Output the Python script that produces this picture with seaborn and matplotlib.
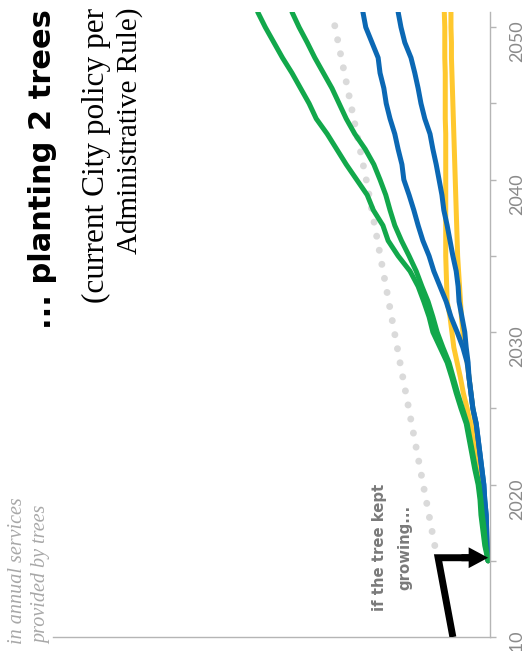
import matplotlib
matplotlib.use("Agg")
import matplotlib.pyplot as plt
import numpy as np
import pandas as pd
import seaborn as sns

# ---- data -------------------------------------------------------------
years = list(range(2015, 2052))

green_a = [0.04, 0.11, 0.15, 0.19, 0.21, 0.25, 0.32, 0.38, 0.44, 0.50,
           0.61, 0.71, 0.80, 0.90, 1.05, 1.20, 1.28, 1.39, 1.51, 1.68,
           1.93, 2.14, 2.25, 2.45, 2.58, 2.80, 3.02, 3.22, 3.42, 3.65,
           3.80, 3.98, 4.16, 4.36, 4.54, 4.72, 4.88]
green_b = [0.04, 0.09, 0.12, 0.16, 0.19, 0.23, 0.30, 0.36, 0.42, 0.48,
           0.58, 0.68, 0.77, 0.86, 0.99, 1.11, 1.20, 1.30, 1.43, 1.55,
           1.70, 1.86, 2.00, 2.10, 2.19, 2.31, 2.44, 2.62, 2.84, 3.02,
           3.17, 3.32, 3.50, 3.68, 3.84, 4.01, 4.16]
blue_c = [0.04, 0.06, 0.07, 0.08, 0.11, 0.13, 0.17, 0.21, 0.25, 0.29,
          0.36, 0.40, 0.44, 0.48, 0.57, 0.69, 0.82, 0.92, 1.05, 1.18,
          1.28, 1.41, 1.51, 1.60, 1.70, 1.81, 1.85, 1.93, 2.00, 2.10,
          2.18, 2.23, 2.31, 2.35, 2.48, 2.61, 2.67]
blue_d = [0.04, 0.06, 0.07, 0.08, 0.11, 0.13, 0.17, 0.21, 0.25, 0.29,
          0.36, 0.40, 0.44, 0.46, 0.50, 0.53, 0.59, 0.65, 0.67, 0.71,
          0.78, 0.84, 0.90, 0.97, 1.01, 1.07, 1.13, 1.20, 1.26, 1.37,
          1.45, 1.51, 1.58, 1.66, 1.79, 1.87, 1.93]
yellow_e = [0.04, 0.07, 0.09, 0.12, 0.15, 0.20, 0.25, 0.30, 0.36, 0.42,
            0.48, 0.56, 0.62, 0.69, 0.76, 0.80, 0.84, 0.90, 0.91, 0.92,
            0.93, 0.93, 0.93, 0.93, 0.93, 0.93, 0.93, 0.93, 0.93, 0.94,
            0.94, 0.94, 0.94, 0.95, 0.95, 0.95, 0.96]
yellow_f = [0.04, 0.06, 0.08, 0.10, 0.14, 0.19, 0.22, 0.26, 0.29, 0.32,
            0.36, 0.40, 0.44, 0.48, 0.53, 0.57, 0.60, 0.62, 0.64, 0.66,
            0.68, 0.69, 0.70, 0.71, 0.72, 0.73, 0.74, 0.75, 0.76, 0.77,
            0.78, 0.79, 0.80, 0.81, 0.81, 0.82, 0.82]

growth_years = [2016, 2028, 2040, 2051]
growth_values = [1.16, 1.89, 2.60, 3.32]

arrow_years = [2010, 2015.2, 2015.2]
arrow_values = [0.78, 1.09, 0.40]

year_ticks = [2010, 2020, 2030, 2040, 2050]
year_minor = [2015, 2025, 2035, 2045]
value_ticks = list(range(0, 10))

series = {
    "yellow_e": yellow_e, "yellow_f": yellow_f,
    "blue_c": blue_c, "blue_d": blue_d,
    "green_a": green_a, "green_b": green_b,
}
palette = {
    "yellow_e": "#FFC82E", "yellow_f": "#FFC82E",
    "blue_c": "#0B68B4", "blue_d": "#0B68B4",
    "green_a": "#12A84B", "green_b": "#12A84B",
}

df = pd.concat(
    [pd.DataFrame({"year": years, "value": v, "series": k}) for k, v in series.items()],
    ignore_index=True,
)
growth = pd.DataFrame({"year": growth_years, "value": growth_values})

# ---- figure -----------------------------------------------------------
sns.set_style("white")
W, H = 530, 651
fig = plt.figure(figsize=(W / 100, H / 100), dpi=100)
ax = fig.add_axes([53 / W, 1 - 637 / H, (490 - 53) / W, (637 - 12) / H])

sns.lineplot(data=growth, x="value", y="year", orient="y", ax=ax,
             color="#DADADA", linewidth=5.0, linestyle=(0, (0.01, 2.05)),
             dash_capstyle="round", estimator=None, zorder=1)

for group in (["yellow_e", "yellow_f"], ["blue_c", "blue_d"], ["green_a", "green_b"]):
    sns.lineplot(data=df[df.series.isin(group)], x="value", y="year", hue="series",
                 palette={k: palette[k] for k in group}, orient="y", sort=True,
                 estimator=None, linewidth=3.6, legend=False, ax=ax, zorder=2)

# pointer to the planting year
ax.plot(arrow_values, arrow_years, color="black", linewidth=5,
        solid_joinstyle="miter", solid_capstyle="butt", zorder=3)
ax.annotate("", xy=(0.04, 2015.2), xytext=(0.6, 2015.2),
            arrowprops=dict(width=5, headwidth=15, headlength=14,
                            facecolor="black", edgecolor="none", shrink=0),
            zorder=3)

ax.set_xlim(9.18, 0)
ax.set_ylim(2010, 2051)

# axes styling
axis_grey = "#B5B5B5"
for side in ("top", "left"):
    ax.spines[side].set_visible(False)
for side in ("right", "bottom"):
    ax.spines[side].set_color(axis_grey)
    ax.spines[side].set_linewidth(1.0)

ax.yaxis.tick_right()
ax.set_yticks(year_ticks)
ax.set_yticks(year_minor, minor=True)
ax.set_yticklabels([str(y) for y in year_ticks])
ax.tick_params(axis="y", which="both", direction="out", length=4, width=1,
               color=axis_grey, pad=10, labelsize=13, labelcolor="#8A8A8A",
               labelrotation=90)
ax.set_xticks(value_ticks)
ax.set_xticklabels([])
ax.tick_params(axis="x", which="both", direction="out", length=4.5, width=1,
               color=axis_grey)
for lab in ax.get_yticklabels():
    lab.set_family(["Lato", "DejaVu Sans"])
ax.set_xlabel("")
ax.set_ylabel("")

# ---- text -------------------------------------------------------------
def fx(x):
    return x / W


def fy(y):
    return 1 - y / H


fig.text(fx(51), fy(9), "... planting 2 trees", rotation=90, rotation_mode="anchor",
         ha="right", va="baseline", fontsize=22, fontweight="bold",
         family=["DejaVu Sans"], color="black")
fig.text(fx(104), fy(8), "(current City policy per", rotation=90, rotation_mode="anchor",
         ha="right", va="baseline", fontsize=22.5, family=["Liberation Serif"], color="black")
fig.text(fx(137), fy(8), "Administrative Rule)", rotation=90, rotation_mode="anchor",
         ha="right", va="baseline", fontsize=21, family=["Liberation Serif"], color="black")

fig.text(fx(384), fy(547), "if the tree kept", rotation=90, rotation_mode="anchor",
         ha="center", va="baseline", fontsize=10.7, fontweight="bold",
         family=["DejaVu Sans"], color="#7A7A7A")
fig.text(fx(409), fy(547), "growing...", rotation=90, rotation_mode="anchor",
         ha="center", va="baseline", fontsize=10.7, fontweight="bold",
         family=["DejaVu Sans"], color="#7A7A7A")

fig.text(fx(22), fy(644), "in annual services", rotation=90, rotation_mode="anchor",
         ha="left", va="baseline", fontsize=14.5, style="italic",
         family=["Liberation Serif"], color="#A8A8A8")
fig.text(fx(46), fy(644), "provided by trees", rotation=90, rotation_mode="anchor",
         ha="left", va="baseline", fontsize=14.5, style="italic",
         family=["Liberation Serif"], color="#A8A8A8")

fig.savefig("out.png", dpi=100, facecolor="white")
